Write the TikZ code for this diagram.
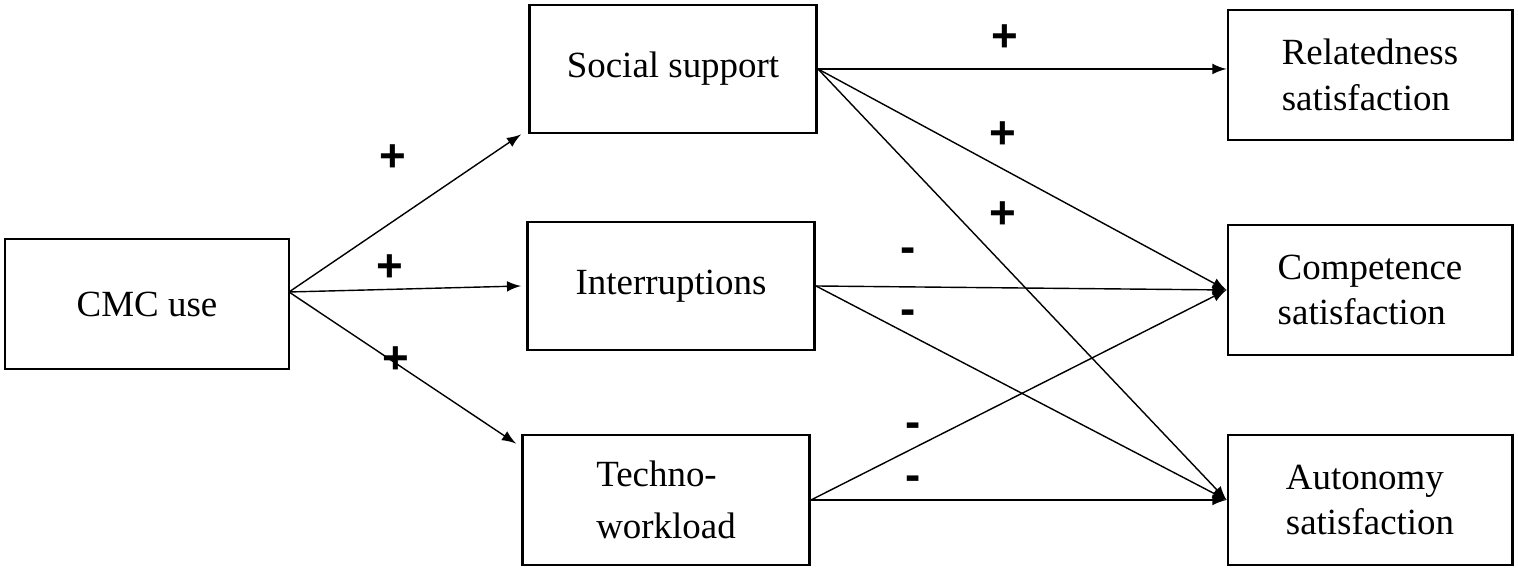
\documentclass[tikz,border=0pt]{standalone}
\usepackage{fontspec}
\setmainfont{Liberation Serif}
\setsansfont{Liberation Sans}
\begin{document}
\begin{tikzpicture}[x=0.01cm, y=-0.01cm, font=\fontsize{10.5}{13}\selectfont,
  box/.style={draw=black, thick, minimum width=2.84cm, minimum height=1.3cm, align=left},
  sign/.style={font=\sffamily\bfseries\fontsize{13}{13}\selectfont}]
\useasboundingbox (0,0) rectangle (1518,571);
\node[box] (cmc) at (147,304) {CMC use};
\node[box, minimum width=2.87cm, minimum height=1.28cm] (soc) at (673,69) {Social support};
\node[box, minimum width=2.87cm, minimum height=1.28cm] (int) at (671,286) {Interruptions};
\node[box, minimum width=2.87cm] (tec) at (666,500) {Techno-\\[2pt]workload};
\node[box, minimum width=2.84cm] (rel) at (1370,75) {Relatedness\\satisfaction};
\node[box] (com) at (1370,290) {Competence\\satisfaction};
\node[box] (aut) at (1370,500) {Autonomy\\satisfaction};
\coordinate (c) at (289,292);
\draw[-latex] (c) -- ([xshift=-0.07cm]soc.south west);
\draw[-latex] (c) -- ([xshift=-0.05cm]int.west);
\draw[-latex] (c) -- ([xshift=-0.05cm, yshift=-0.1cm]tec.north west);
\draw[-latex] (soc.east) -- (rel.west |- soc.east);
\draw[-latex] (soc.east) -- (com.west);
\draw[-latex] (soc.east) -- (aut.west);
\draw[-latex] (int.east) -- (com.west);
\draw[-latex] (int.east) -- (aut.west);
\draw[-latex] (tec.east) -- (com.west);
\draw[-latex] (tec.east) -- (aut.west);
\node[sign] (p1) at (393,158) {+};
\node[sign] (p2) at (390,268) {+};
\node[sign] (p3) at (396,360) {+};
\node[sign] (p4) at (1005,38) {+};
\node[sign] (p5) at (1003,135) {+};
\node[sign] (p6) at (1003,215) {+};
\node[sign] (m1) at (908,255) {-};
\node[sign] (m2) at (908,317) {-};
\node[sign] (m3) at (913,430) {-};
\node[sign] (m4) at (913,483) {-};
\end{tikzpicture}
\end{document}
